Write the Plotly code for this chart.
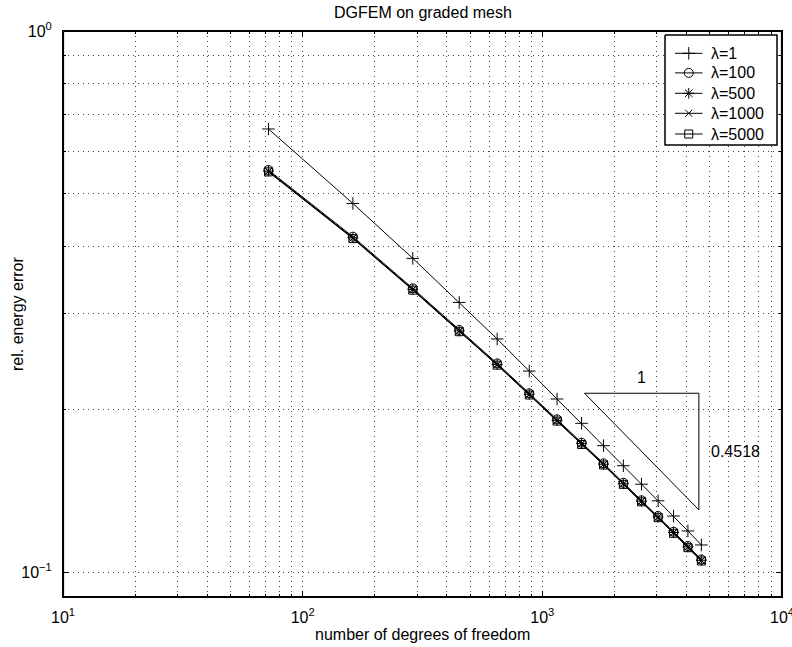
import math
import plotly.graph_objects as go

# ---- data ----
dof = [72, 162, 288, 450, 648, 882, 1152, 1458, 1800, 2178, 2592, 3042, 3528, 4050, 4608]
err_l1 = [0.659, 0.480, 0.380, 0.315, 0.2696, 0.2352, 0.2088, 0.1883, 0.1712, 0.1572,
          0.1453, 0.1354, 0.1269, 0.1191, 0.1122]
err_l100 = [0.5534, 0.4167, 0.3345, 0.2802, 0.2430, 0.2140, 0.1915, 0.1734, 0.1588, 0.1462,
            0.1357, 0.1269, 0.1187, 0.1117, 0.1055]
err_l500 = [0.5510, 0.4148, 0.3330, 0.2790, 0.2420, 0.2131, 0.1907, 0.1727, 0.1582, 0.1456,
            0.1352, 0.1264, 0.1183, 0.1113, 0.1051]
err_l1000 = [0.5500, 0.4141, 0.3325, 0.2786, 0.2416, 0.2128, 0.1904, 0.1724, 0.1579, 0.1454,
             0.1350, 0.1262, 0.1181, 0.1111, 0.1049]
err_l5000 = [0.5490, 0.4134, 0.3319, 0.2781, 0.2412, 0.2124, 0.1901, 0.1721, 0.1577, 0.1452,
             0.1348, 0.1260, 0.1179, 0.1109, 0.1048]
series_names = ["λ=1", "λ=100", "λ=500", "λ=1000", "λ=5000"]

# slope triangle
tri_x1, tri_x2 = 1500, 4500
tri_y1 = 0.214
tri_slope = 0.4518
tri_y2 = tri_y1 * (tri_x1 / tri_x2) ** tri_slope

x_tickvals = [10, 100, 1000, 10000]
x_ticktext = ["10<sup>1</sup>", "10<sup>2</sup>", "10<sup>3</sup>", "10<sup>4</sup>"]
y_tickvals = [0.1, 1]
y_ticktext = ["10<sup>−1</sup>", "10<sup>0</sup>"]
x_minor = [m * 10 ** e for e in (1, 2, 3) for m in range(2, 10)]
y_minor = [m * 0.1 for m in range(2, 10)] + [0.09]

FONT = "Liberation Sans, Arial, Helvetica, sans-serif"
FS = 16

W, H = 792, 647
L, R, T, B = 63, 782, 31, 597

fig = go.Figure()

styles = [
    ("cross-thin-open", 9),
    ("circle-open", 9),
    ("asterisk-open", 9),
    ("x-thin-open", 7),
    ("square-open", 8),
]
series = [err_l1, err_l100, err_l500, err_l1000, err_l5000]
for name, ys, (sym, sz) in zip(series_names, series, styles):
    fig.add_trace(go.Scatter(
        x=dof, y=ys, name=name, mode="lines+markers", showlegend=False,
        line=dict(color="black", width=1),
        marker=dict(symbol=sym, size=sz, color="black", line=dict(color="black", width=1)),
    ))

fig.add_trace(go.Scatter(
    x=[tri_x1, tri_x2, tri_x2, tri_x1], y=[tri_y1, tri_y1, tri_y2, tri_y1],
    mode="lines", line=dict(color="black", width=1), showlegend=False, hoverinfo="skip",
))

fig.add_annotation(x=math.log10(math.sqrt(tri_x1 * tri_x2)), y=math.log10(tri_y1),
                   text="1", showarrow=False, yshift=16, font=dict(size=FS, color="black", family=FONT))
fig.add_annotation(x=math.log10(tri_x2), y=math.log10(math.sqrt(tri_y1 * tri_y2)),
                   text=str(tri_slope), showarrow=False, xanchor="left", xshift=10,
                   font=dict(size=FS, color="black", family=FONT))

# ---- manual legend on a pixel overlay axis ----
leg_box = (665, 35, 777, 145)
leg_rows = [53.3, 72.9, 93.3, 113.3, 134]
leg_line = (675, 702.5)
leg_text_x = 709
fig.add_trace(go.Scatter(
    x=[leg_box[0], leg_box[2], leg_box[2], leg_box[0], leg_box[0]],
    y=[leg_box[1], leg_box[1], leg_box[3], leg_box[3], leg_box[1]],
    xaxis="x2", yaxis="y2", mode="lines", fill="toself", fillcolor="white",
    line=dict(color="black", width=1.5), showlegend=False, hoverinfo="skip"))
for name, (sym, sz), yy in zip(series_names, styles, leg_rows):
    fig.add_trace(go.Scatter(
        x=[leg_line[0], leg_line[1]], y=[yy, yy], xaxis="x2", yaxis="y2", mode="lines",
        line=dict(color="black", width=1), showlegend=False, hoverinfo="skip"))
    fig.add_trace(go.Scatter(
        x=[(leg_line[0] + leg_line[1]) / 2], y=[yy], xaxis="x2", yaxis="y2", mode="markers",
        marker=dict(symbol=sym, size=sz, color="black", line=dict(color="black", width=1)),
        showlegend=False, hoverinfo="skip"))
    fig.add_annotation(x=leg_text_x, y=yy, xref="x2", yref="y2", text=name, showarrow=False,
                       xanchor="left", yanchor="middle", font=dict(size=FS, color="black", family=FONT))

# plot frame (box on), drawn as a trace on the pixel overlay axis
fig.add_trace(go.Scatter(
    x=[L + 0.5, R - 0.5, R - 0.5, L + 0.5, L + 0.5],
    y=[T + 0.5, T + 0.5, B - 0.5, B - 0.5, T + 0.5],
    xaxis="x2", yaxis="y2", mode="lines", line=dict(color="black", width=1.2),
    showlegend=False, hoverinfo="skip"))

grid = dict(showgrid=True, gridcolor="#444", gridwidth=1, griddash="1px,4px")
fig.update_layout(
    xaxis=dict(
        type="log", range=[1, 4.00001], tickmode="array", tickvals=x_tickvals, ticktext=x_ticktext,
        ticks="inside", ticklen=6, tickcolor="black", showline=True, linecolor="black", linewidth=1,
        mirror="ticks", zeroline=False, automargin=False, ticklabelstandoff=6,
        ticklabeloverflow="allow",
        minor=dict(tickvals=x_minor, ticks="inside", ticklen=3, tickcolor="black", **grid),
        tickfont=dict(size=FS, color="black"), **grid,
    ),
    yaxis=dict(
        type="log", range=[-1.0462, 0], tickmode="array", tickvals=y_tickvals, ticktext=y_ticktext,
        ticks="inside", ticklen=6, tickcolor="black", showline=True, linecolor="black", linewidth=1,
        mirror="ticks", zeroline=False, automargin=False, ticklabelstandoff=7,
        ticklabeloverflow="allow",
        minor=dict(tickvals=y_minor, ticks="inside", ticklen=3, tickcolor="black", **grid),
        tickfont=dict(size=FS, color="black"), **grid,
    ),
    xaxis2=dict(overlaying="x", range=[L, R], visible=False, fixedrange=True),
    yaxis2=dict(overlaying="y", range=[B, T], visible=False, fixedrange=True),
)

fig.add_annotation(text="number of degrees of freedom", xref="paper", yref="paper", x=0.5, y=0,
                   yshift=-37, yanchor="middle", showarrow=False,
                   font=dict(size=FS, color="black", family=FONT))
fig.add_annotation(text="rel. energy error", xref="paper", yref="paper", x=0, y=0.5,
                   xshift=-46, xanchor="center", textangle=-90, showarrow=False,
                   font=dict(size=FS, color="black", family=FONT))
fig.add_annotation(text="DGFEM on graded mesh", xref="paper", yref="paper", x=0.5, y=1,
                   yshift=18.5, yanchor="middle", showarrow=False,
                   font=dict(size=FS, color="black", family=FONT))

fig.update_layout(
    width=W, height=H,
    margin=dict(l=L, r=W - R, t=T, b=H - B, autoexpand=False),
    paper_bgcolor="white", plot_bgcolor="white",
    font=dict(family=FONT, size=FS, color="black"),
    showlegend=False,
)

fig.write_html(
    "out.html",
    config={"displayModeBar": False},
    post_script="document.body.style.margin='0';document.body.style.overflow='hidden';"
                "document.documentElement.style.overflow='hidden';",
)
